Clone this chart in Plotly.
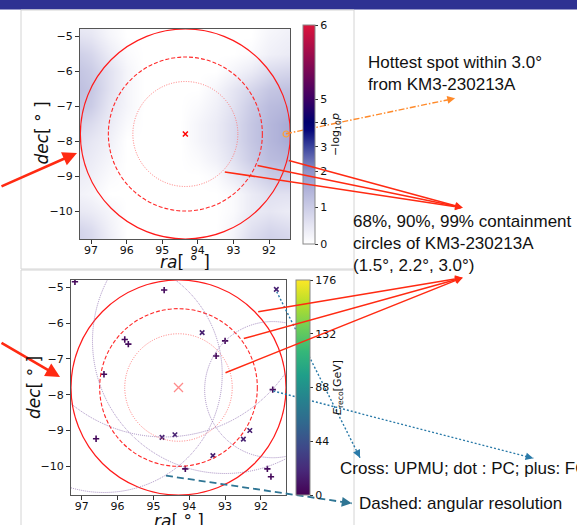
import numpy as np
import plotly.graph_objects as go

W, H = 577, 525

# ---------------- data: top panel (hot-spot map) ----------------
ra_grid = [97.5, 97.0, 96.5, 96.0, 95.5, 95.0, 94.5, 94.0, 93.5, 93.0, 92.5, 92.0, 91.5, 91.0]
dec_grid = [-4.5, -5.0, -5.5, -6.0, -6.5, -7.0, -7.5, -8.0, -8.5, -9.0, -9.5, -10.0, -10.5, -11.0]
logp_rows = [
    [0.3, 0.3, 0.1, 0.0, 0, 0, 0, 0.0, 0.0, 0.0, 0.0, 0.1, 0.2, 0.2],
    [0.6, 0.5, 0.2, 0.0, 0, 0, 0, 0.0, 0.0, 0.0, 0.0, 0.2, 0.3, 0.3],
    [1.0, 0.8, 0.4, 0.1, 0, 0, 0, 0.0, 0.0, 0.0, 0.1, 0.3, 0.4, 0.4],
    [1.2, 1.0, 0.6, 0.2, 0, 0, 0, 0.0, 0.0, 0.2, 0.4, 0.7, 0.8, 0.8],
    [1.3, 1.1, 0.6, 0.2, 0, 0, 0, 0.0, 0.2, 0.5, 0.8, 1.1, 1.2, 1.2],
    [1.2, 1.0, 0.5, 0.2, 0, 0, 0, 0.1, 0.3, 0.6, 1.0, 1.3, 1.4, 1.4],
    [0.9, 0.7, 0.4, 0.1, 0, 0, 0, 0.2, 0.4, 0.7, 1.1, 1.4, 1.6, 1.6],
    [0.7, 0.5, 0.3, 0.0, 0, 0, 0, 0.2, 0.4, 0.7, 1.1, 1.4, 1.6, 1.6],
    [0.5, 0.4, 0.2, 0.0, 0, 0, 0, 0.1, 0.3, 0.6, 1.0, 1.3, 1.4, 1.4],
    [0.4, 0.3, 0.1, 0.0, 0, 0, 0, 0.0, 0.1, 0.4, 0.7, 1.0, 1.1, 1.1],
    [0.3, 0.2, 0.0, 0.0, 0, 0, 0, 0.0, 0.0, 0.1, 0.4, 0.6, 0.6, 0.6],
    [0.5, 0.4, 0.2, 0.0, 0, 0, 0, 0.0, 0.0, 0.1, 0.4, 0.5, 0.4, 0.3],
    [0.9, 0.7, 0.3, 0.0, 0, 0, 0, 0.0, 0.0, 0.2, 0.6, 0.8, 0.7, 0.4],
    [1.0, 0.8, 0.4, 0.0, 0, 0, 0, 0.0, 0.0, 0.3, 0.8, 1.0, 0.9, 0.5],
]
logp_ticks = [0, 1, 2, 3, 4, 5, 6]
logp_tick_frac = [0.0, 0.167, 0.333, 0.444, 0.557, 0.662, 1.0]
logp_colors = [(0, '#ffffff'), (0.5, '#e6e6f3'), (1, '#cbcce6'), (1.5, '#b0b2d9'),
               (2, '#9094ca'), (3, '#3a449d'), (3.7, '#050578'), (4, '#00006e'),
               (5, '#3c0064'), (6, '#dc143c')]

km3_top = (94.35, -7.8)
km3_bot = (94.30, -7.8)
contain_radii = [1.5, 2.2, 3.0]
hot_ra = [91.52]
hot_dec = [-7.8]

ra_ticks = [97, 96, 95, 94, 93, 92]
dec_ticks = [-10, -9, -8, -7, -6, -5]

# ---------------- data: bottom panel (events) ----------------
ev_ra = [97.19, 94.70, 91.57, 93.64, 93.00, 95.80, 95.70, 93.25, 96.38, 91.67,
         96.60, 94.76, 94.40, 92.31, 92.49, 93.34, 94.11, 91.82, 91.72]
ev_dec = [-4.85, -5.08, -5.06, -6.27, -6.50, -6.46, -6.59, -6.92, -7.43, -7.86,
          -9.23, -9.19, -9.12, -9.00, -9.24, -9.70, -10.07, -10.07, -10.29]
ev_type = ['FC', 'FC', 'UPMU', 'UPMU', 'FC', 'FC', 'FC', 'FC', 'FC', 'FC',
           'FC', 'UPMU', 'UPMU', 'UPMU', 'UPMU', 'UPMU', 'FC', 'FC', 'FC']
ev_energy = [4, 5, 16, 15, 5, 4, 5, 4, 5, 5, 4, 15, 16, 15, 16, 15, 4, 5, 4]
ev_res = [0, 4.1, 0, 0, 3.7, 0, 0, 0, 3.3, 1.9, 0, 0, 0, 0, 0, 0, 0, 0, 0]
energy_ticks = [0, 44, 88, 132, 176]

# ---------------- layout geometry (pixels) ----------------
top_px = dict(x0=80, x1=290, y0=29, y1=239)
bot_px = dict(x0=71, x1=286, y0=280, y1=495)
top_ra_range = [97.31, 91.41]
bot_ra_range = [97.30, 91.30]
dec_range = [-10.8, -4.8]


def px(x, y):
    return x / W, 1 - y / H


def dom(p):
    return [p['x0'] / W, p['x1'] / W], [1 - p['y1'] / H, 1 - p['y0'] / H]


def minus(v):
    return str(v).replace('-', '\u2212')


fig = go.Figure()

# top heat map with nonlinear colour bar
z_frac = np.interp(np.array(logp_rows), logp_ticks, logp_tick_frac)
cs = [[float(np.interp(v, logp_ticks, logp_tick_frac)), c] for v, c in logp_colors]
fig.add_trace(go.Heatmap(
    x=ra_grid, y=dec_grid, z=z_frac, zmin=0, zmax=1, colorscale=cs, zsmooth='best',
    hoverinfo='skip', xaxis='x', yaxis='y',
    colorbar=dict(x=303 / W, xanchor='left', xpad=0, y=1 - 244 / H, yanchor='bottom', ypad=0,
                  len=219, lenmode='pixels', thickness=12, outlinewidth=1, outlinecolor='#888',
                  tickvals=logp_tick_frac, ticktext=[str(t) for t in logp_ticks],
                  ticks='outside', ticklen=3, tickcolor='#333',
                  tickfont=dict(family='DejaVu Sans', size=11, color='#111'),
                  title=dict(text='\u2212log<sub>10</sub><i>p</i>', side='right',
                             font=dict(family='DejaVu Sans', size=11, color='#111')))))

fig.add_trace(go.Scatter(x=[km3_top[0]], y=[km3_top[1]], mode='markers', xaxis='x', yaxis='y',
                         marker=dict(symbol='x-thin-open', size=5, color='red', line=dict(width=1.5)),
                         hoverinfo='skip'))
fig.add_trace(go.Scatter(x=hot_ra, y=hot_dec, mode='markers', xaxis='x', yaxis='y',
                         marker=dict(symbol='circle-open', size=6, color='#ffa030', line=dict(width=1.2)),
                         hoverinfo='skip'))

# bottom events
sym = {'UPMU': 'x-thin-open', 'PC': 'circle', 'FC': 'cross-thin-open'}
for t in ['UPMU', 'PC', 'FC']:
    idx = [i for i, tt in enumerate(ev_type) if tt == t]
    if not idx:
        continue
    fig.add_trace(go.Scatter(
        x=[ev_ra[i] for i in idx], y=[ev_dec[i] for i in idx], mode='markers',
        xaxis='x2', yaxis='y2', hoverinfo='skip',
        marker=dict(symbol=sym[t], size=4.5, color=[ev_energy[i] for i in idx],
                    coloraxis='coloraxis', line=dict(width=1.6))))

fig.add_trace(go.Scatter(x=[km3_bot[0]], y=[km3_bot[1]], mode='markers', xaxis='x2', yaxis='y2',
                         marker=dict(symbol='x-thin-open', size=9, color='#ff8a8a', line=dict(width=1.3)),
                         hoverinfo='skip'))

# clipped x-axis title of the top panel (cut by the lower slide panel)
fig.add_trace(go.Scatter(x=[0.5], y=[0.25], mode='text', text=['<i>ra</i>[ \u00b0 ]'],
                         textfont=dict(family='DejaVu Sans', size=17, color='#111'),
                         xaxis='x3', yaxis='y3', cliponaxis=True, hoverinfo='skip'))

axis_common = dict(showgrid=False, zeroline=False, showline=True, mirror=True, linecolor='#555',
                   linewidth=1, ticks='outside', ticklen=4, tickcolor='#333',
                   tickfont=dict(family='DejaVu Sans', size=11, color='#111'))
tdx, tdy = dom(top_px)
bdx, bdy = dom(bot_px)

fig.update_layout(
    width=W, height=H, margin=dict(l=0, r=0, t=0, b=0),
    paper_bgcolor='white', plot_bgcolor='white', showlegend=False,
    xaxis=dict(domain=tdx, range=top_ra_range, anchor='y', tickvals=ra_ticks,
               ticktext=[str(v) for v in ra_ticks], ticklabelstandoff=-3, **axis_common),
    yaxis=dict(domain=tdy, range=dec_range, anchor='x', tickvals=dec_ticks,
               ticktext=[minus(v) for v in dec_ticks], **axis_common),
    xaxis2=dict(domain=bdx, range=bot_ra_range, anchor='y2', tickvals=ra_ticks,
                ticktext=[str(v) for v in ra_ticks], ticklabelstandoff=-3, **axis_common),
    yaxis2=dict(domain=bdy, range=dec_range, anchor='x2', tickvals=dec_ticks,
                ticktext=[minus(v) for v in dec_ticks], **axis_common),
    xaxis3=dict(domain=tdx, range=[0, 1], anchor='y3', visible=False),
    yaxis3=dict(domain=[1 - 270 / H, 1 - 244 / H], range=[0, 1], anchor='x3', visible=False),
    coloraxis=dict(colorscale='Viridis', cmin=0, cmax=176,
                   colorbar=dict(x=296 / W, xanchor='left', xpad=0, y=1 - 495 / H, yanchor='bottom',
                                 ypad=0, len=215, lenmode='pixels', thickness=14, outlinewidth=1,
                                 outlinecolor='#888', tickvals=energy_ticks, ticks='outside',
                                 ticklen=3, tickcolor='#333',
                                 tickfont=dict(family='DejaVu Sans', size=11, color='#111'),
                                 title=dict(text='<i>E</i><sub>reco</sub>[GeV]', side='right',
                                            font=dict(family='DejaVu Sans', size=11, color='#111')))),
)

shapes = []
# slide decorations
shapes.append(dict(type='rect', xref='paper', yref='paper', x0=0, x1=1, y0=1 - 9.5 / H, y1=1,
                   fillcolor='#2e3192', line=dict(width=0), layer='below'))
for (y0, y1) in [(10, 269), (270, 530)]:
    shapes.append(dict(type='rect', xref='paper', yref='paper', x0=21 / W, x1=354 / W,
                       y0=1 - y1 / H, y1=1 - y0 / H, line=dict(color='#d4d4d4', width=1),
                       layer='below'))

# containment circles
circle_styles = [('1px,1.5px', '#ff7a7a', 1.0), ('4px,2px', '#ff2a2a', 1.1), ('solid', '#ff1a1a', 1.2)]
kx_top = ((top_ra_range[0] - top_ra_range[1]) / (top_px['x1'] - top_px['x0'])) / \
         ((dec_range[1] - dec_range[0]) / (top_px['y1'] - top_px['y0']))
for r, (dash, col, lw) in zip(contain_radii, circle_styles):
    shapes.append(dict(type='circle', xref='x', yref='y',
                       x0=km3_top[0] - r * kx_top, x1=km3_top[0] + r * kx_top,
                       y0=km3_top[1] - r, y1=km3_top[1] + r,
                       line=dict(color=col, width=lw, dash=dash)))
    shapes.append(dict(type='circle', xref='x2', yref='y2',
                       x0=km3_bot[0] - r, x1=km3_bot[0] + r,
                       y0=km3_bot[1] - r, y1=km3_bot[1] + r,
                       line=dict(color=col, width=lw, dash=dash)))
# angular resolution circles
for ra, dec, res in zip(ev_ra, ev_dec, ev_res):
    if res > 0:
        shapes.append(dict(type='circle', xref='x2', yref='y2',
                           x0=ra - res, x1=ra + res, y0=dec - res, y1=dec + res,
                           line=dict(color='rgba(150,122,182,0.85)', width=1, dash='1px,1px')))

# styled (non-solid) pointer lines: (tail, head, colour, width, dash)
styled_lines = [
    ((286, 133.7), (455, 98.3), '#ff8a2a', 1.4, '6px,2px,1.5px,2px'),
    ((276.7, 291.7), (360, 457.7), '#2a7aa8', 1.4, '2px,2px'),
    ((273.3, 391), (533.3, 458.3), '#2a7aa8', 1.4, '2px,2px'),
    ((166, 475.7), (351.7, 503.3), '#2f7594', 1.8, '7px,4px'),
]
annotations = []
for tail, head, col, lw, dash in styled_lines:
    x0, y0 = px(*tail)
    x1, y1 = px(*head)
    shapes.append(dict(type='line', xref='paper', yref='paper', x0=x0, y0=y0, x1=x1, y1=y1,
                       line=dict(color=col, width=lw, dash=dash)))
    dx, dy = tail[0] - head[0], tail[1] - head[1]
    n = np.hypot(dx, dy)
    annotations.append(dict(x=x1, y=y1, xref='paper', yref='paper', showarrow=True, text='',
                            ax=dx / n * 6, ay=dy / n * 6, axref='pixel', ayref='pixel',
                            arrowcolor=col, arrowwidth=lw, arrowhead=2, arrowsize=1.1, standoff=0))

# solid red pointers: (tail, head, width, size)
red_arrows = [
    ((0, 187), (77, 153), 2.6, 1.1),
    ((0, 342), (60, 377), 2.6, 1.1),
    ((287.3, 160), (462.7, 207.7), 1.5, 1.0),
    ((256, 165.3), (462.7, 207.7), 1.5, 1.0),
    ((223.3, 171.7), (462.7, 207.7), 1.5, 1.0),
    ((256.7, 312), (462.7, 277.7), 1.5, 1.0),
    ((242.3, 339), (462.7, 277.7), 1.5, 1.0),
    ((224, 373.3), (462.7, 277.7), 1.5, 1.0),
]
for tail, head, lw, sz in red_arrows:
    x1, y1 = px(*head)
    annotations.append(dict(x=x1, y=y1, xref='paper', yref='paper', showarrow=True, text='',
                            ax=tail[0] - head[0], ay=tail[1] - head[1], axref='pixel', ayref='pixel',
                            arrowcolor='#ff2a12', arrowwidth=lw, arrowhead=2, arrowsize=sz,
                            standoff=0))

# axis titles
title_font = dict(family='DejaVu Sans', size=17, color='#111')
for (x, y) in [(41.5, 133), (34, 388)]:
    xx, yy = px(x, y)
    annotations.append(dict(x=xx, y=yy, xref='paper', yref='paper', text='<i>dec</i>[ \u00b0 ]',
                            textangle=-90, showarrow=False, font=title_font,
                            xanchor='center', yanchor='middle'))
xx, yy = px(178.5, 521)
annotations.append(dict(x=xx, y=yy, xref='paper', yref='paper', text='<i>ra</i>[ \u00b0 ]',
                        showarrow=False, font=title_font, xanchor='center', yanchor='middle'))

# slide notes
note_font = dict(family='Liberation Sans', size=17, color='#111')
notes = [
    ((366, 73), 'Hottest spot within 3.0\u00b0<br>from KM3-230213A'),
    ((351, 243), '68%, 90%, 99% containment<br>circles of KM3-230213A<br>(1.5\u00b0, 2.2\u00b0, 3.0\u00b0)'),
    ((338, 468), 'Cross: UPMU; dot : PC; plus: FC'),
    ((357, 503), 'Dashed: angular resolution'),
]
for (x, y), txt in notes:
    xx, yy = px(x, y)
    annotations.append(dict(x=xx, y=yy, xref='paper', yref='paper', text=txt, showarrow=False,
                            font=note_font, xanchor='left', yanchor='middle', align='left'))

fig.update_layout(shapes=shapes, annotations=annotations)
fig.write_html('out.html', config={'displayModeBar': False, 'staticPlot': True},
               post_script="document.body.style.margin='0';document.body.style.padding='0';"
                           "document.body.style.overflow='hidden';")
